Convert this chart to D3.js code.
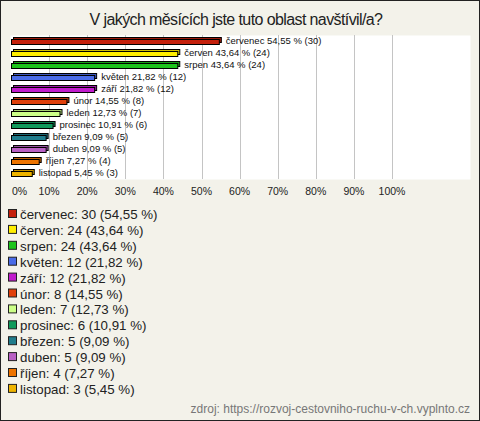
<!DOCTYPE html>
<html>
<head>
<meta charset="utf-8">
<script src="https://cdn.jsdelivr.net/npm/d3@7"></script>
<style>
body { margin: 0; background: #f3f2ea; }
svg { display: block; font-family: "Liberation Sans", Arial, sans-serif; }
</style>
</head>
<body>
<div class="container"></div>
<script>
var months = ["červenec", "červen", "srpen", "květen", "září", "únor", "leden", "prosinec", "březen", "duben", "říjen", "listopad"];
var counts = [30, 24, 24, 12, 12, 8, 7, 6, 5, 5, 4, 3];
var percents = [54.55, 43.64, 43.64, 21.82, 21.82, 14.55, 12.73, 10.91, 9.09, 9.09, 7.27, 5.45];
var colors = ["#c4200c", "#ffee00", "#1cc41c", "#4a6ce8", "#c01ccc", "#e0400c", "#ccff88", "#109a5c", "#207c8c", "#b860c4", "#ee7400", "#eeb400"];
var xTicks = [0, 10, 20, 30, 40, 50, 60, 70, 80, 90, 100];

var svgWidth = 480, svgHeight = 421;
var plot = { left: 10, top: 35, right: 470, bottom: 179 };

var fmt = v => v.toFixed(2).replace(".", ",");

var svg = d3.select(".container").append("svg")
    .attr("width", svgWidth)
    .attr("height", svgHeight);

// background + outer frame
svg.append("rect")
    .attr("x", 0.5).attr("y", 0.5)
    .attr("width", svgWidth - 1).attr("height", svgHeight - 1)
    .attr("fill", "#f3f2ea")
    .attr("stroke", "#222");

svg.append("text")
    .attr("x", 236).attr("y", 25)
    .attr("text-anchor", "middle")
    .attr("font-size", "16px")
    .attr("letter-spacing", "-0.6px")
    .attr("fill", "#222")
    .text("V jakých měsících jste tuto oblast navštívil/a?");

var x = d3.scaleLinear().domain([0, 100]).range([11, 392]);
var y = d3.scaleBand().domain(months).range([plot.top, plot.bottom]);

svg.append("rect")
    .attr("x", plot.left + 0.5).attr("y", plot.top + 0.5)
    .attr("width", plot.right - plot.left).attr("height", plot.bottom - plot.top)
    .attr("fill", "#fff");

// grid
svg.selectAll(".grid")
    .data(xTicks.slice(1))
    .enter().append("line")
    .attr("x1", d => Math.round(x(d)) + 0.5).attr("x2", d => Math.round(x(d)) + 0.5)
    .attr("y1", plot.top).attr("y2", plot.bottom)
    .attr("stroke", "#c4c4c4");

// tick labels
svg.selectAll(".tick")
    .data(xTicks)
    .enter().append("text")
    .attr("x", d => d == 0 ? x(d) + 1 : x(d))
    .attr("y", 195)
    .attr("text-anchor", d => d == 0 ? "start" : "middle")
    .attr("font-size", "10.5px")
    .attr("fill", "#222")
    .text(d => d + "%");

var barH = 5;
var bars = svg.selectAll(".bar")
    .data(months)
    .enter().append("g");

// 3D back face
bars.append("rect")
    .attr("x", d => x(0) + 2.5)
    .attr("y", d => Math.round(y(d) + y.bandwidth() / 2 - barH / 2) - 1.5)
    .attr("width", (d, i) => x(percents[i]) - x(0))
    .attr("height", barH)
    .attr("fill", (d, i) => d3.color(colors[i]).darker(0.6))
    .attr("stroke", "#000");

bars.append("rect")
    .attr("x", d => x(0) + 0.5)
    .attr("y", d => Math.round(y(d) + y.bandwidth() / 2 - barH / 2) + 0.5)
    .attr("width", (d, i) => x(percents[i]) - x(0))
    .attr("height", barH)
    .attr("fill", (d, i) => colors[i])
    .attr("stroke", "#000");

bars.append("text")
    .attr("x", (d, i) => x(percents[i]) + 7)
    .attr("y", d => y(d) + y.bandwidth() / 2 + 3)
    .attr("font-size", "9.5px")
    .attr("fill", "#111")
    .text((d, i) => d + " " + fmt(percents[i]) + " % (" + counts[i] + ")");

// legend
var legend = svg.selectAll(".legend")
    .data(months)
    .enter().append("g")
    .attr("transform", (d, i) => `translate(0, ${214 + i * 15.9})`);

legend.append("rect")
    .attr("x", 8.5).attr("y", -4.5)
    .attr("width", 8).attr("height", 8)
    .attr("fill", (d, i) => colors[i])
    .attr("stroke", "#222");

legend.append("text")
    .attr("x", 20).attr("y", 5)
    .attr("font-size", "13.3px")
    .attr("fill", "#222")
    .text((d, i) => d + ": " + counts[i] + " (" + fmt(percents[i]) + " %)");

svg.append("text")
    .attr("x", 470).attr("y", 413)
    .attr("text-anchor", "end")
    .attr("font-size", "12px")
    .attr("fill", "#777")
    .text("zdroj: https://rozvoj-cestovniho-ruchu-v-ch.vyplnto.cz");
</script>
</body>
</html>
